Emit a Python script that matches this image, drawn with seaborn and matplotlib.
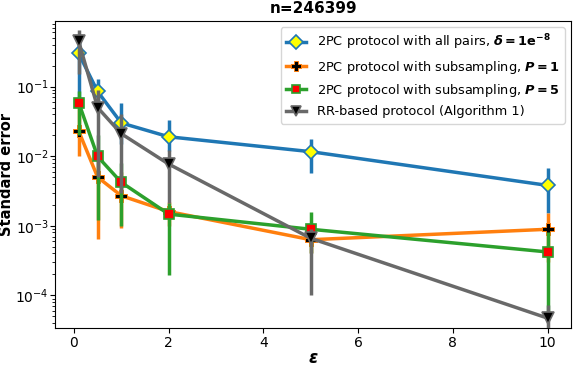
import matplotlib
matplotlib.use("Agg")
import matplotlib.pyplot as plt
import numpy as np
import seaborn as sns

eps = [0.1, 0.5, 1, 2, 5, 10]

# 2PC, all pairs
allpairs = [0.30, 0.085, 0.030, 0.019, 0.0116, 0.0038]
allpairs_lo = [0.06, 0.05, 0.015, 0.012, 0.0057, 0.0015]
allpairs_hi = [0.45, 0.128, 0.058, 0.033, 0.0175, 0.0067]

# 2PC, subsampling P=1
sub1 = [0.023, 0.005, 0.0027, 0.0016, 0.00063, 0.00089]
sub1_lo = [0.010, 0.00065, 0.00093, 0.001, 0.0004, 0.0003]
sub1_hi = [0.05, 0.012, 0.006, 0.0022, 0.001, 0.0015]

# 2PC, subsampling P=5
sub5 = [0.059, 0.0099, 0.0042, 0.00147, 0.00089, 0.00042]
sub5_lo = [0.02, 0.0012, 0.001, 0.000195, 0.0004, 0.00005]
sub5_hi = [0.085, 0.02, 0.008, 0.0021, 0.0016, 0.0008]

# RR-based
rr = [0.45, 0.050, 0.021, 0.0077, 0.00066, 0.000047]
rr_lo = [0.15, 0.005, 0.003, 0.0021, 0.0001, 0.00003]
rr_hi = [0.65, 0.09, 0.04, 0.0123, 0.0009, 0.000073]

series = [
    (allpairs, allpairs_lo, allpairs_hi, "tab:blue", "D", "yellow", 7.5, 1.2,
     r"2PC protocol with all pairs, $\boldsymbol{\delta}\mathbf{=1e^{-8}}$"),
    (sub1, sub1_lo, sub1_hi, "tab:orange", "P", "black", 8, 0.7,
     r"2PC protocol with subsampling, $\boldsymbol{P}\mathbf{=1}$"),
    (sub5, sub5_lo, sub5_hi, "tab:green", "s", "red", 7, 1.2,
     r"2PC protocol with subsampling, $\boldsymbol{P}\mathbf{=5}$"),
    (rr, rr_lo, rr_hi, "dimgray", "v", "black", 8, 1.2,
     "RR-based protocol (Algorithm 1)"),
]

fig, ax = plt.subplots(figsize=(5.81, 3.66), dpi=100)
fig.subplots_adjust(left=0.095, right=0.983, top=0.943, bottom=0.104)

for i, (y, lo, hi, c, m, fc, ms, mew, lab) in enumerate(series):
    y = np.array(y)
    yerr = [y - np.array(lo), np.array(hi) - y]
    ax.errorbar(eps, y, yerr=yerr, fmt="none", ecolor=c, elinewidth=2.5,
                zorder=2 + i)
    sns.lineplot(x=eps, y=y, ax=ax, color=c, linewidth=2.5, marker=m,
                 markerfacecolor=fc, markeredgecolor=c, markeredgewidth=mew,
                 markersize=ms, label=lab, zorder=2.5 + i)

ax.set_yscale("log")
ax.set_ylim(3.4e-5, 0.88)
ax.tick_params(axis="y", which="both", pad=1)
ax.tick_params(axis="x", pad=2.5)
ax.set_title("n=246399", fontweight="bold", fontsize=11)
ax.set_xlabel(r"$\boldsymbol{\epsilon}$", fontsize=12, labelpad=-1)
ax.set_ylabel("Standard error", fontweight="bold", fontsize=10.5)
ax.yaxis.set_label_coords(-0.079, 0.5)
ax.legend(loc="upper right", fontsize=9.3, handlelength=1.6, markerscale=0.9)

fig.savefig("out.png", dpi=100)
